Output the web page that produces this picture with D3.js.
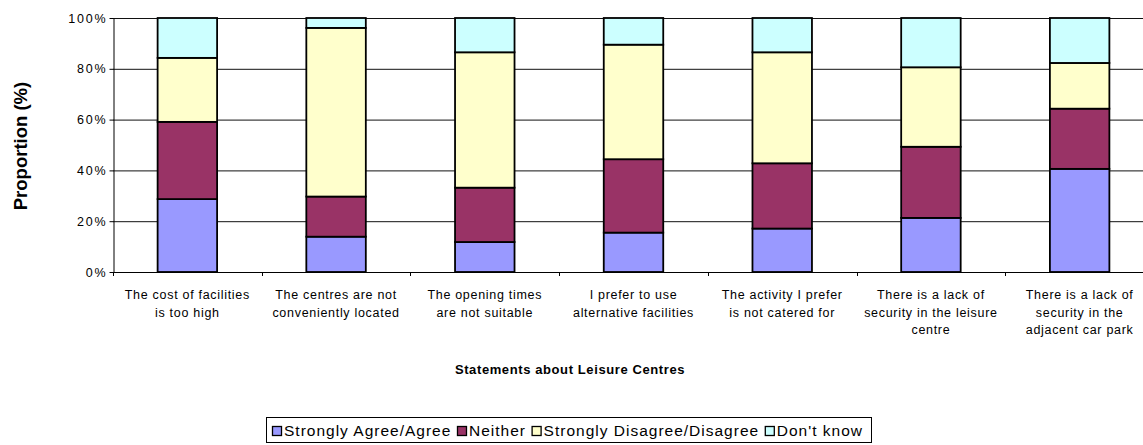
<!DOCTYPE html>
<html>
<head>
<meta charset="utf-8">
<script src="https://cdn.jsdelivr.net/npm/d3@7"></script>
<style>
  html, body { margin: 0; padding: 0; background: #fff; }
  svg { display: block; font-family: "Liberation Sans", Arial, sans-serif; }
</style>
</head>
<body>
<svg id="chart" width="1143" height="445"></svg>
<script>
// Statements (line breaks marked with "|")
const categories = [
  "The cost of facilities|is too high",
  "The centres are not|conveniently located",
  "The opening times|are not suitable",
  "I prefer to use|alternative facilities",
  "The activity I prefer|is not catered for",
  "There is a lack of|security in the leisure|centre",
  "There is a lack of|security in the|adjacent car park"
];
const seriesNames = ["Strongly Agree/Agree", "Neither", "Strongly Disagree/Disagree", "Don't know"];
const agree    = [28.7, 13.9, 11.8, 15.5, 17.1, 21.3, 40.6];
const neither  = [30.4, 15.8, 21.4, 28.9, 25.7, 28.0, 23.7];
const disagree = [25.2, 66.4, 53.3, 45.1, 43.7, 31.3, 18.0];
const dontKnow = [15.7,  3.9, 13.5, 10.5, 13.5, 19.4, 17.7];
const yTicks = [0, 20, 40, 60, 80, 100];
const colors = ["#9999FF", "#993366", "#FFFFCC", "#CCFFFF"];

const svg = d3.select("#chart");
const plot = { left: 113, top: 18, right: 1154, bottom: 272 };

const rows = categories.map((c, i) => ({
  cat: c,
  [seriesNames[0]]: agree[i],
  [seriesNames[1]]: neither[i],
  [seriesNames[2]]: disagree[i],
  [seriesNames[3]]: dontKnow[i]
}));
const stacked = d3.stack().keys(seriesNames)(rows);

const x = d3.scaleBand().domain(categories).range([plot.left, plot.right]).paddingInner(0.6).paddingOuter(0.3);
const y = d3.scaleLinear().domain([0, 100]).range([plot.bottom, plot.top]);

// Gridlines
svg.append("g")
  .selectAll("line")
  .data(yTicks.filter(t => t > 0))
  .join("line")
  .attr("x1", plot.left).attr("x2", plot.right)
  .attr("y1", d => y(d) + 0.5).attr("y2", d => y(d) + 0.5)
  .attr("stroke", "#111").attr("stroke-width", 1);

// Stacked bars
svg.append("g")
  .selectAll("g")
  .data(stacked)
  .join("g")
  .attr("fill", (d, i) => colors[i])
  .selectAll("rect")
  .data(d => d)
  .join("rect")
  .attr("x", d => x(d.data.cat))
  .attr("width", x.bandwidth())
  .attr("y", d => y(d[1]))
  .attr("height", d => y(d[0]) - y(d[1]))
  .attr("stroke", "#000")
  .attr("stroke-width", 1.8);

// Y axis
const yAxis = svg.append("g")
  .attr("transform", `translate(${plot.left + 0.5},0)`)
  .call(d3.axisLeft(y).tickValues(yTicks).tickFormat(d => d + "%").tickSize(4).tickSizeOuter(0));
yAxis.select(".domain").attr("stroke", "#000");
yAxis.selectAll(".tick line").attr("stroke", "#000");
yAxis.selectAll(".tick text")
  .attr("font-family", "Liberation Sans, Arial, sans-serif")
  .attr("font-size", 12.5).attr("letter-spacing", 1.8)
  .attr("fill", "#000").attr("x", -6);

// X axis: baseline and ticks between categories
const xg = svg.append("g");
xg.append("line")
  .attr("x1", plot.left).attr("x2", plot.right)
  .attr("y1", plot.bottom + 0.5).attr("y2", plot.bottom + 0.5)
  .attr("stroke", "#000");
xg.selectAll("line.tk")
  .data(d3.range(categories.length + 1))
  .join("line")
  .attr("class", "tk")
  .attr("x1", i => Math.round(plot.left + i * x.step()) + 0.5)
  .attr("x2", i => Math.round(plot.left + i * x.step()) + 0.5)
  .attr("y1", plot.bottom).attr("y2", plot.bottom + 4)
  .attr("stroke", "#000");

xg.selectAll("text")
  .data(categories)
  .join("text")
  .attr("text-anchor", "middle")
  .attr("font-size", 12.5)
  .attr("letter-spacing", 0.7)
  .attr("fill", "#000")
  .each(function(d) {
    const t = d3.select(this);
    const cx = x(d) + x.bandwidth() / 2;
    d.split("|").forEach((line, k) => {
      t.append("tspan").attr("x", cx).attr("y", 299 + k * 17.5).text(line);
    });
  });

// Axis titles
svg.append("text")
  .attr("x", 570).attr("y", 374)
  .attr("text-anchor", "middle")
  .attr("font-size", 13).attr("font-weight", "bold")
  .attr("letter-spacing", 0.6)
  .text("Statements about Leisure Centres");

svg.append("text")
  .attr("transform", "translate(27,146) rotate(-90)")
  .attr("text-anchor", "middle")
  .attr("font-size", 18.5).attr("font-weight", "bold")
  .text("Proportion (%)");

// Legend: swatch + label per series, spread across the framed box
const box = { x: 266.5, y: 417.5, w: 605, h: 25 };
const legend = svg.append("g");
legend.append("rect")
  .attr("x", box.x).attr("y", box.y).attr("width", box.w).attr("height", box.h)
  .attr("fill", "#fff").attr("stroke", "#000");
const items = legend.selectAll("g.item")
  .data(seriesNames)
  .join("g")
  .attr("class", "item");
items.append("rect")
  .attr("width", 9).attr("height", 9)
  .attr("y", 426.5)
  .attr("fill", (d, i) => colors[i]).attr("stroke", "#000").attr("stroke-width", 1.3);
items.append("text")
  .attr("y", 436)
  .attr("font-size", 15.5).attr("letter-spacing", 1.0).attr("fill", "#000")
  .text(d => d);
const widths = items.select("text").nodes().map(n => n.getComputedTextLength());
const startX = 272, endX = 863, swGap = 12;
const gap = Math.max(4, (endX - startX - d3.sum(widths) - swGap * seriesNames.length) / (seriesNames.length - 1));
let lx = startX;
items.each(function(d, i) {
  const g = d3.select(this);
  g.select("rect").attr("x", lx + 0.5);
  g.select("text").attr("x", lx + swGap);
  lx += swGap + widths[i] + gap;
});
</script>
</body>
</html>
